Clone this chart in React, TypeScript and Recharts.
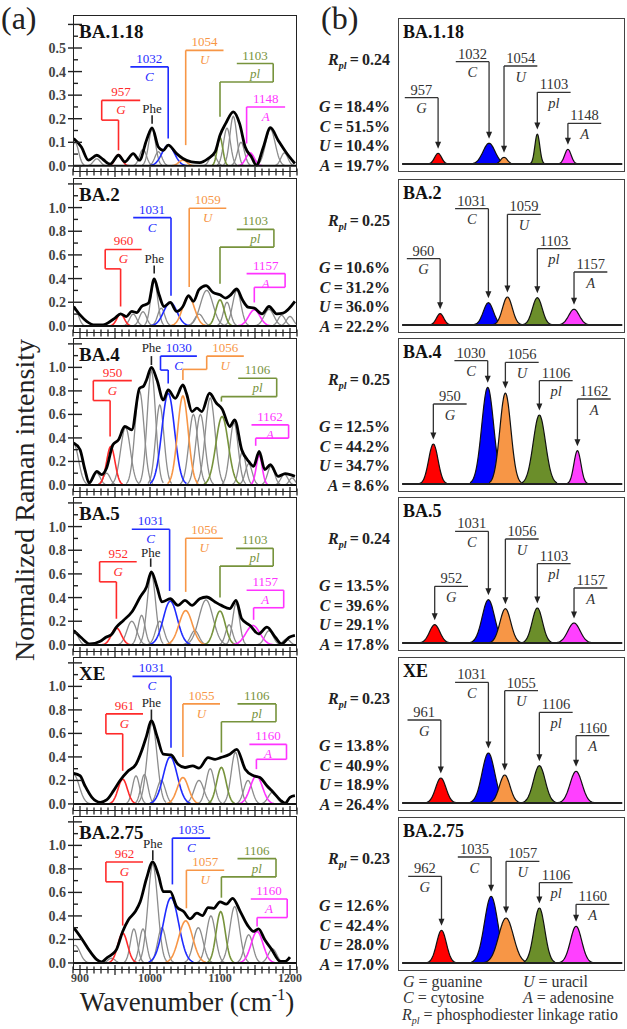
import { useMemo } from 'react'
import { ComposedChart, Line, Area, XAxis, YAxis, ReferenceLine, ReferenceDot } from 'recharts'

const SERIF = '"Liberation Serif", "Times New Roman", Times, Tinos, "Nimbus Roman", "Noto Serif", "DejaVu Serif", serif'
const serifStyle = { fontFamily: SERIF }

/* ============ data ============ */

const variants = ['BA.1.18', 'BA.2', 'BA.4', 'BA.5', 'XE', 'BA.2.75']
const rplRatio = ['0.24', '0.25', '0.25', '0.24', '0.23', '0.23']
const guaninePct = ['18.4', '10.6', '12.5', '13.5', '13.8', '12.6']
const cytosinePct = ['51.5', '31.2', '44.2', '39.6', '40.9', '42.4']
const uracilPct = ['10.4', '36.0', '34.7', '29.1', '18.9', '28.0']
const adenosinePct = ['19.7', '22.2', '8.6', '17.8', '26.4', '17.0']

const bandSymbols = ['G', 'C', 'U', 'pl', 'A']
const bandWavenumbers = [
  [957, 1032, 1054, 1103, 1148],
  [960, 1031, 1059, 1103, 1157],
  [950, 1030, 1056, 1106, 1162],
  [952, 1031, 1056, 1103, 1157],
  [961, 1031, 1055, 1106, 1160],
  [962, 1035, 1057, 1106, 1160],
]

// measured Raman spectra (a): [wavenumber, normalized intensity]
const spectrumBA118 = [
  [891, 0.116], [902, 0.08], [912, 0.024], [924, 0.045], [933, 0.027], [943, 0.007], [955, 0.045],
  [964, 0.017], [976, 0.052], [985, 0.024], [995, 0.109], [1003, 0.161], [1012, 0.08], [1019, 0.066],
  [1026, 0.088], [1038, 0.052], [1047, 0.031], [1059, 0.017], [1071, 0.014], [1083, 0.031], [1093, 0.059],
  [1100, 0.13], [1108, 0.179], [1119, 0.229], [1128, 0.179], [1136, 0.08], [1145, 0.038], [1152, 0.003],
  [1162, 0.08], [1172, 0.162], [1183, 0.109], [1194, 0.059], [1207, 0.01],
]
const spectrumBA2 = [
  [891, 0.164], [900, 0.093], [910, 0.037], [921, 0.008], [933, 0.008], [943, 0.037], [950, 0.065],
  [958, 0.102], [966, 0.079], [974, 0.122], [981, 0.113], [988, 0.164], [998, 0.193], [1006, 0.397],
  [1013, 0.263], [1020, 0.164], [1029, 0.198], [1038, 0.122], [1047, 0.164], [1055, 0.255], [1062, 0.207],
  [1070, 0.306], [1080, 0.34], [1090, 0.283], [1100, 0.263], [1108, 0.235], [1114, 0.255], [1124, 0.312],
  [1132, 0.221], [1140, 0.159], [1149, 0.15], [1160, 0.102], [1170, 0.164], [1181, 0.102], [1190, 0.108],
  [1207, 0.207],
]
const spectrumBA4 = [
  [891, 0.356], [900, 0.3], [907, 0.13], [913, 0.017], [924, 0.116], [931, 0.088], [938, 0.144],
  [947, 0.342], [955, 0.384], [964, 0.497], [974, 0.469], [985, 0.822], [991, 0.842], [995, 0.893],
  [1002, 1.0], [1010, 0.893], [1019, 0.723], [1026, 0.808], [1036, 0.737], [1047, 0.85], [1052, 0.78],
  [1060, 0.624], [1067, 0.653], [1074, 0.624], [1085, 0.78], [1095, 0.695], [1103, 0.647], [1114, 0.497],
  [1121, 0.554], [1131, 0.3], [1141, 0.2], [1148, 0.158], [1156, 0.285], [1164, 0.13], [1172, 0.172],
  [1183, 0.073], [1193, 0.096], [1207, 0.073],
]
const spectrumBA5 = [
  [891, 0.122], [902, 0.06], [914, 0.008], [929, 0.031], [937, 0.065], [945, 0.088], [952, 0.15],
  [962, 0.207], [974, 0.278], [986, 0.405], [995, 0.49], [1002, 0.618], [1010, 0.49], [1017, 0.363],
  [1029, 0.39], [1040, 0.334], [1050, 0.377], [1060, 0.334], [1071, 0.39], [1081, 0.405], [1093, 0.363],
  [1102, 0.334], [1114, 0.306], [1123, 0.377], [1131, 0.22], [1143, 0.164], [1155, 0.093], [1167, 0.15],
  [1179, 0.065], [1188, 0.008], [1199, 0.065], [1207, 0.08],
]
const spectrumXE = [
  [891, 0.26], [900, 0.24], [907, 0.155], [917, 0.056], [929, 0.014], [938, 0.034], [948, 0.113],
  [957, 0.197], [969, 0.282], [980, 0.338], [988, 0.45], [995, 0.577], [1002, 0.71], [1010, 0.577],
  [1019, 0.423], [1030, 0.417], [1040, 0.338], [1050, 0.31], [1061, 0.324], [1070, 0.304], [1083, 0.394],
  [1093, 0.38], [1101, 0.394], [1114, 0.423], [1124, 0.465], [1136, 0.296], [1148, 0.24], [1157, 0.225],
  [1167, 0.155], [1176, 0.099], [1186, 0.034], [1193, 0.006], [1200, 0.056], [1207, 0.07],
]
const spectrumBA275 = [
  [891, 0.3], [902, 0.21], [914, 0.1], [924, 0.028], [931, 0.008], [938, 0.042], [945, 0.07],
  [952, 0.113], [961, 0.268], [969, 0.366], [979, 0.437], [986, 0.52], [995, 0.718], [1004, 0.86],
  [1012, 0.746], [1019, 0.606], [1029, 0.606], [1038, 0.479], [1048, 0.437], [1057, 0.375], [1067, 0.423],
  [1075, 0.403], [1083, 0.47], [1091, 0.465], [1100, 0.52], [1109, 0.5], [1118, 0.55], [1129, 0.437],
  [1139, 0.324], [1148, 0.268], [1155, 0.29], [1164, 0.197], [1174, 0.113], [1186, 0.014], [1193, 0.014],
  [1200, 0.05],
]
const spectra = [spectrumBA118, spectrumBA2, spectrumBA4, spectrumBA5, spectrumXE, spectrumBA275]

// nucleotide bands fitted in (a): [center, height, sigma], order G C U pl A
const fitBA118 = [[955, 0.048, 5], [1026, 0.088, 9], [1047, 0.024, 6], [1100, 0.12, 4], [1143, 0.055, 6]]
const fitBA2 = [[958, 0.102, 5.3], [1029, 0.198, 9.5], [1055, 0.25, 8.5], [1100, 0.22, 6], [1149, 0.136, 8]]
const fitBA4 = [[944, 0.328, 6], [1026, 0.78, 9], [1047, 0.757, 7.6], [1103, 0.582, 8.8], [1156, 0.25, 4.3]]
const fitBA5 = [[952, 0.144, 7], [1029, 0.37, 10], [1051, 0.29, 9.5], [1100, 0.286, 7.6], [1147, 0.164, 10]]
const fitXE = [[961, 0.21, 6.7], [1029, 0.4, 10], [1047, 0.225, 8], [1102, 0.31, 6.7], [1152, 0.24, 8.6]]
const fitBA275 = [[961, 0.254, 7], [1030, 0.555, 11], [1051, 0.358, 10], [1101, 0.437, 6.5], [1153, 0.268, 8.5]]
const fitsA = [fitBA118, fitBA2, fitBA4, fitBA5, fitXE, fitBA275]

// remaining (grey) bands in (a)
const greyBA118 = [[893, 0.1, 5], [924, 0.03, 5], [990, 0.07, 5], [1003, 0.155, 5], [1012, 0.06, 5], [1090, 0.05, 5], [1110, 0.16, 5], [1119, 0.21, 5], [1130, 0.1, 5], [1172, 0.155, 7], [1192, 0.055, 5]]
const greyBA2 = [[893, 0.14, 5], [976, 0.1, 5], [990, 0.12, 5], [1006, 0.38, 5], [1016, 0.15, 5], [1070, 0.1, 6], [1081, 0.3, 9], [1110, 0.2, 5], [1124, 0.3, 6], [1170, 0.14, 7], [1188, 0.09, 5], [1200, 0.08, 5]]
const greyBA4 = [[891, 0.35, 7], [924, 0.1, 5], [938, 0.1, 5], [965, 0.49, 7], [985, 0.8, 6.5], [1002, 0.97, 6], [1014, 0.68, 6], [1062, 0.6, 6.5], [1072, 0.6, 6.5], [1086, 0.74, 7], [1120, 0.53, 6], [1132, 0.28, 5], [1141, 0.18, 5], [1173, 0.16, 5], [1192, 0.09, 5], [1203, 0.06, 4]]
const greyBA5 = [[893, 0.1, 5], [974, 0.2, 7], [988, 0.25, 5], [1002, 0.6, 6], [1014, 0.2, 6], [1064, 0.12, 6], [1080, 0.38, 10], [1113, 0.17, 5], [1123, 0.35, 5], [1170, 0.12, 6], [1195, 0.05, 5]]
const greyXE = [[891, 0.25, 8], [980, 0.24, 5], [992, 0.25, 5], [1003, 0.69, 7], [1016, 0.2, 6], [1070, 0.2, 7], [1086, 0.3, 6], [1122, 0.44, 6], [1140, 0.2, 6], [1175, 0.1, 6]]
const greyBA275 = [[893, 0.15, 7], [945, 0.04, 5], [977, 0.29, 5], [990, 0.29, 5], [1004, 0.84, 7], [1017, 0.3, 6], [1069, 0.3, 7], [1087, 0.4, 6.5], [1121, 0.48, 7], [1141, 0.24, 6], [1175, 0.12, 6]]
const greysA = [greyBA118, greyBA2, greyBA4, greyBA5, greyXE, greyBA275]

// isolated nucleotide bands (b): heights and widths, centers from bandWavenumbers
const heightsB = [
  [0.107, 0.207, 0.067, 0.3, 0.147],
  [0.113, 0.223, 0.28, 0.273, 0.157],
  [0.4, 0.967, 0.91, 0.69, 0.333],
  [0.183, 0.433, 0.343, 0.35, 0.2],
  [0.25, 0.5, 0.28, 0.373, 0.317],
  [0.327, 0.667, 0.45, 0.55, 0.367],
]
const sigmaB = [
  [5.1, 8.8, 4.9, 3.6, 4.8],
  [5.4, 7.4, 7.2, 7.2, 7.8],
  [6.9, 8.8, 8.1, 9, 5.2],
  [7.6, 9.1, 8, 7.6, 9],
  [7.6, 9.3, 7.8, 8.6, 8.8],
  [7.2, 9.8, 10.8, 8, 8.3],
]

/* ============ annotation layout ============ */

// (a): label bar [left, right, y] and leader polyline down to the band
const bracketsA = [
  [
    { bar: [931, 986, 0.278], leg: [[931, 0.278], [931, 0.194], [955, 0.194], [955, 0.066]] },
    { bar: [972, 1026, 0.42], leg: [[1026, 0.42], [1026, 0.116]] },
    { bar: [1051, 1105, 0.49], leg: [[1051, 0.49], [1051, 0.088]] },
    { bar: [1124, 1176, 0.434], leg: [[1176, 0.434], [1176, 0.356], [1100, 0.356], [1100, 0.208]] },
    { bar: [1138, 1193, 0.25], leg: [[1138, 0.25], [1138, 0.095]] },
  ],
  [
    { bar: [936, 988, 0.646], leg: [[936, 0.646], [936, 0.482], [958, 0.482], [958, 0.164]] },
    { bar: [976, 1030, 0.915], leg: [[1030, 0.915], [1030, 0.255]] },
    { bar: [1056, 1109, 0.994], leg: [[1056, 0.994], [1056, 0.329]] },
    { bar: [1124, 1177, 0.816], leg: [[1177, 0.816], [1177, 0.666], [1100, 0.666], [1100, 0.357]] },
    { bar: [1138, 1193, 0.442], leg: [[1193, 0.442], [1193, 0.326], [1149, 0.326], [1149, 0.198]] },
  ],
  [
    { bar: [919, 974, 0.887], leg: [[919, 0.887], [919, 0.718], [943, 0.718], [943, 0.412]] },
    { bar: [1015, 1067, 1.096], leg: [[1015, 1.096], [1015, 0.977], [1026, 0.977], [1026, 0.864]] },
    { bar: [1081, 1134, 1.096], leg: [[1081, 1.096], [1081, 0.983], [1047, 0.983], [1047, 0.893]] },
    { bar: [1126, 1181, 0.907], leg: [[1181, 0.907], [1181, 0.751], [1102, 0.751], [1102, 0.709]] },
    { bar: [1145, 1198, 0.511], leg: [[1198, 0.511], [1198, 0.398], [1151, 0.398], [1151, 0.333]] },
  ],
  [
    { bar: [928, 981, 0.703], leg: [[928, 0.703], [928, 0.533], [952, 0.533], [952, 0.221]] },
    { bar: [974, 1028, 0.977], leg: [[1028, 0.977], [1028, 0.456]] },
    { bar: [1051, 1104, 0.901], leg: [[1051, 0.901], [1051, 0.448]] },
    { bar: [1123, 1176, 0.816], leg: [[1176, 0.816], [1176, 0.666], [1100, 0.666], [1100, 0.4]] },
    { bar: [1138, 1191, 0.462], leg: [[1191, 0.462], [1191, 0.314], [1148, 0.314], [1148, 0.212]] },
  ],
  [
    { bar: [937, 990, 0.766], leg: [[937, 0.766], [937, 0.597], [961, 0.597], [961, 0.282]] },
    { bar: [975, 1030, 1.085], leg: [[1030, 1.085], [1030, 0.479]] },
    { bar: [1047, 1100, 0.851], leg: [[1047, 0.851], [1047, 0.4]] },
    { bar: [1125, 1180, 0.851], leg: [[1180, 0.851], [1180, 0.699], [1102, 0.699], [1102, 0.437]] },
    { bar: [1142, 1195, 0.507], leg: [[1195, 0.507], [1195, 0.38], [1152, 0.38], [1152, 0.296]] },
  ],
  [
    { bar: [937, 990, 0.859], leg: [[937, 0.859], [937, 0.69], [961, 0.69], [961, 0.318]] },
    { bar: [1032, 1086, 1.062], leg: [[1032, 1.062], [1032, 0.668]] },
    { bar: [1052, 1106, 0.789], leg: [[1052, 0.789], [1052, 0.465]] },
    { bar: [1125, 1180, 0.887], leg: [[1180, 0.887], [1180, 0.732], [1102, 0.732], [1102, 0.555]] },
    { bar: [1144, 1196, 0.544], leg: [[1196, 0.544], [1196, 0.386], [1153, 0.386], [1153, 0.31]] },
  ],
]
// Phe marker (a): [x, text y, tick top, tick bottom]
const pheA = [
  [1003, 0.243, 0.215, 0.179],
  [1006, 0.567, 0.51, 0.442],
  [1002, 1.161, 1.096, 1.02],
  [1001, 0.779, 0.731, 0.66],
  [1002, 0.859, 0.803, 0.718],
  [1004, 1.014, 0.958, 0.873],
]
// (b): label bar height and side (-1 bar to the left of the arrow, 1 to the right)
const barYB = [
  [0.663, 1.023, 0.98, 0.717, 0.407],
  [0.663, 1.163, 1.107, 0.763, 0.53],
  [0.8, 1.233, 1.217, 1.033, 0.85],
  [0.567, 1.117, 1.04, 0.793, 0.55],
  [0.83, 1.207, 1.123, 0.907, 0.673],
  [0.867, 1.06, 1.017, 0.803, 0.587],
]
const sideB = [
  [-1, -1, 1, 1, 1],
  [-1, -1, 1, 1, 1],
  [1, -1, 1, 1, 1],
  [1, -1, 1, 1, 1],
  [-1, -1, 1, 1, 1],
  [-1, -1, 1, 1, 1],
]

const lineColors = ['#ff2a2a', '#1f2bff', '#f79646', '#77933c', '#ff33ff']
const fillColors = ['#ff0000', '#0000ff', '#f79646', '#6b8e2a', '#ff40ff']

const topsA = [15, 178, 338, 497, 657, 816]
const heightsA = [157, 155, 154, 155, 154, 154]
const topsB = [18, 179, 338, 497, 657, 817]

/* ============ helpers ============ */

const gauss = (x: number, c: number, h: number, s: number) => h * Math.exp(-((x - c) ** 2) / (2 * s * s))

function bandRows(x0: number, x1: number, bands: number[][]) {
  const rows: Record<string, number | null>[] = []
  for (let x = x0; x <= x1; x += 1) {
    const row: Record<string, number | null> = { x }
    bands.forEach(([c, h, s], k) => {
      const v = gauss(x, c, h, s)
      row['b' + k] = v < h * 0.012 ? null : v
    })
    rows.push(row)
  }
  return rows
}

function XTick(props: any) {
  const { x, y, payload, showLabel } = props
  const v = payload.value
  const major = v % 50 === 0
  const len = major ? 5 : 3.5
  return (
    <g>
      <line x1={x} x2={x} y1={y - len} y2={y + len} stroke="#222" strokeWidth={1.3} />
      {showLabel && v % 100 === 0 && (
        <text x={x} y={y + 12} textAnchor="middle" style={serifStyle} fontWeight="bold" fontSize={12} fill="#444">
          {v}
        </text>
      )}
    </g>
  )
}

function YTick(props: any) {
  const { x, y, payload, first } = props
  const v = payload.value
  const major = first ? Math.round(v * 100) % 10 === 0 : Math.round(v * 10) % 2 === 0
  const labelled = major && v <= (first ? 0.5 : 1.0) + 1e-6
  return (
    <g>
      <line x1={major ? x - 5 : x} x2={x + (major ? 9 : 5)} y1={y} y2={y} stroke="#222" strokeWidth={1.4} />
      {labelled && (
        <text x={x - 7} y={y + 5} textAnchor="end" style={serifStyle} fontWeight="bold" fontSize={14} fill="#444">
          {v.toFixed(1)}
        </text>
      )}
    </g>
  )
}

/* ============ panels ============ */

function PanelA({ i }: { i: number }) {
  const first = i === 0
  const bands = useMemo(() => [...greysA[i], ...fitsA[i]], [i])
  const rows = useMemo(() => bandRows(890, 1210, bands), [bands])
  const spec = spectra[i].map(([x, y]) => ({ x, y }))
  const nGrey = greysA[i].length
  const h = heightsA[i]
  const domain = first ? [-0.026, 0.64] : [-0.06, 1.25]
  const yTicks = first
    ? Array.from({ length: 13 }, (_, k) => +(k * 0.05).toFixed(2))
    : Array.from({ length: 13 }, (_, k) => +(k * 0.1).toFixed(1))
  const xTicks = Array.from({ length: 33 }, (_, k) => 890 + k * 10)
  const [px, pTxt, pTop, pBot] = pheA[i]

  return (
    <div style={{ position: 'absolute', left: 28, top: topsA[i] }}>
      <ComposedChart width={285} height={h + 22} data={rows} margin={{ top: 0, right: 16, bottom: 0, left: 0 }}>
        <XAxis
          type="number" dataKey="x" domain={[890, 1210]} allowDataOverflow ticks={xTicks} interval={0}
          height={22} tickSize={0} tickMargin={0} axisLine={false} tickLine={false}
          tick={(p: any) => <XTick {...p} showLabel={i === 5} />}
        />
        <YAxis
          type="number" domain={domain} allowDataOverflow ticks={yTicks} interval={0}
          width={45} tickSize={0} tickMargin={0} axisLine={false} tickLine={false}
          tick={(p: any) => <YTick {...p} first={first} />}
        />
        {bands.map((_, k) => (
          <Line
            key={k} type="linear" dataKey={'b' + k} dot={false} activeDot={false} isAnimationActive={false}
            stroke={k < nGrey ? '#8c8c8c' : lineColors[k - nGrey]} strokeWidth={k < nGrey ? 1.3 : 1.6}
          />
        ))}
        <Line data={spec} type="monotone" dataKey="y" stroke="#000" strokeWidth={2.8} dot={false} activeDot={false} isAnimationActive={false} />
        <ReferenceLine y={0} stroke="#111" strokeWidth={2} />

        {/* Phe marker */}
        <ReferenceLine segment={[{ x: px, y: pTop }, { x: px, y: pBot }]} stroke="#222" strokeWidth={1.6} />
        <ReferenceDot
          x={px} y={pTxt} r={0}
          shape={(p: any) => (
            <text x={p.cx} y={p.cy + 4} textAnchor="middle" style={serifStyle} fontSize={13} fill="#222">Phe</text>
          )}
        />

        {/* band labels with leader lines */}
        {bracketsA[i].map((b, k) => {
          const col = lineColors[k]
          const segs = [[[b.bar[0], b.bar[2]], [b.bar[1], b.bar[2]]]]
          for (let s = 0; s < b.leg.length - 1; s++) segs.push([b.leg[s], b.leg[s + 1]])
          return (
            <g key={k}>
              {segs.map((sg, s) => (
                <ReferenceLine
                  key={s} stroke={col} strokeWidth={1.6}
                  segment={[{ x: sg[0][0], y: sg[0][1] }, { x: sg[1][0], y: sg[1][1] }]}
                />
              ))}
              <ReferenceDot
                x={(b.bar[0] + b.bar[1]) / 2} y={b.bar[2]} r={0}
                shape={(p: any) => (
                  <g style={serifStyle} fontSize={13} fill={col} textAnchor="middle">
                    <text x={p.cx} y={p.cy - 4}>{bandWavenumbers[i][k]}</text>
                    <text x={p.cx} y={p.cy + 14} fontStyle="italic">{bandSymbols[k]}</text>
                  </g>
                )}
              />
            </g>
          )
        })}
      </ComposedChart>
      <div
        style={{
          position: 'absolute', left: 45, top: 0, width: 224, height: h,
          border: '1.5px solid #222', boxSizing: 'border-box', pointerEvents: 'none',
        }}
      />
    </div>
  )
}

function PanelB({ i }: { i: number }) {
  const centers = bandWavenumbers[i]
  const bands = centers.map((c, k) => [c, heightsB[i][k], sigmaB[i][k]])
  const rows = useMemo(() => bandRows(898, 1232, bands), [i])

  return (
    <div style={{ position: 'absolute', left: 398, top: topsB[i] }}>
      <ComposedChart width={227} height={154} data={rows} margin={{ top: 0, right: 0, bottom: 0, left: 0 }}>
        <XAxis type="number" dataKey="x" domain={[898, 1232]} allowDataOverflow hide />
        <YAxis type="number" domain={[-0.08, 1.46]} allowDataOverflow hide />
        <ReferenceLine segment={[{ x: 904, y: 0 }, { x: 1228, y: 0 }]} stroke="#222" strokeWidth={2.2} />
        {bands.map((_, k) => (
          <Area
            key={k} type="monotone" dataKey={'b' + k} baseValue={0} stroke="#111" strokeWidth={1.2}
            fill={fillColors[k]} fillOpacity={1} dot={false} activeDot={false} isAnimationActive={false}
          />
        ))}
        {centers.map((c, k) => {
          const yb = barYB[i][k]
          const far = c + sideB[i][k] * 49
          const tip = heightsB[i][k] + 0.045
          return (
            <g key={k}>
              <ReferenceLine segment={[{ x: c, y: yb }, { x: far, y: yb }]} stroke="#333" strokeWidth={1.3} />
              <ReferenceLine segment={[{ x: c, y: yb }, { x: c, y: tip + 0.05 }]} stroke="#333" strokeWidth={1.3} />
              <ReferenceDot
                x={c} y={tip} r={0}
                shape={(p: any) => <path d={`M${p.cx},${p.cy} l-3,-7 l6,0 z`} fill="#222" />}
              />
              <ReferenceDot
                x={(c + far) / 2} y={yb} r={0}
                shape={(p: any) => (
                  <g style={serifStyle} fontSize={14.5} fill="#333" textAnchor="middle">
                    <text x={p.cx} y={p.cy - 3}>{c}</text>
                    <text x={p.cx} y={p.cy + 15.5} fontStyle="italic">{bandSymbols[k]}</text>
                  </g>
                )}
              />
            </g>
          )
        })}
      </ComposedChart>
      <div
        style={{
          position: 'absolute', left: 0, top: 0, width: 227, height: 154,
          border: '1.5px solid #444', boxSizing: 'border-box', pointerEvents: 'none',
        }}
      />
    </div>
  )
}

/* ============ page ============ */

export default function App() {
  const compRows = [
    ['G', guaninePct],
    ['C', cytosinePct],
    ['U', uracilPct],
    ['A', adenosinePct],
  ] as const
  const rowBase = [94, 113.5, 133, 152.5]

  return (
    <div style={{ position: 'absolute', left: 0, top: 0, width: 627, height: 1029, background: '#fff', overflow: 'hidden', fontFamily: SERIF }}>
      {variants.map((_, i) => <PanelA key={'a' + i} i={i} />)}
      {variants.map((_, i) => <PanelB key={'b' + i} i={i} />)}

      <svg width={627} height={1029} style={{ position: 'absolute', left: 0, top: 0, pointerEvents: 'none', fontFamily: SERIF }}>
        <text x={1} y={29} fontSize={32} fill="#222">(a)</text>
        <text x={321} y={29} fontSize={32} fill="#222">(b)</text>

        {variants.map((v, i) => (
          <g key={v}>
            <text x={79} y={topsA[i] + 23} fontSize={19} fontWeight="bold" fill="#111">{v}</text>
            <text x={403} y={topsB[i] + 20} fontSize={18} fontWeight="bold" fill="#111">{v}</text>
            <text x={390} y={topsB[i] + 47} textAnchor="end" fontSize={16} fontWeight="bold" fill="#222">
              <tspan fontStyle="italic">R</tspan>
              <tspan fontStyle="italic" fontSize={10} dy={4}>pl</tspan>
              <tspan dy={-4}>{'\u2009=\u2009' + rplRatio[i]}</tspan>
            </text>
            {compRows.map(([sym, vals], r) => (
              <text key={sym} x={390} y={topsB[i] + rowBase[r]} textAnchor="end" fontSize={16} fontWeight="bold" fill="#222">
                <tspan fontStyle="italic">{sym}</tspan>
                <tspan>{'\u2009=\u2009' + vals[i] + '%'}</tspan>
              </text>
            ))}
          </g>
        ))}

        <text transform="translate(34,500) rotate(-90)" textAnchor="middle" fontSize={28} fill="#222">
          Normalized Raman intensity
        </text>
        <text x={187} y={1011} textAnchor="middle" fontSize={27} fill="#222">
          Wavenumber (cm<tspan fontSize={16} dy={-11}>-1</tspan><tspan dy={11}>)</tspan>
        </text>

        <g fontSize={16} fill="#333">
          <text x={403} y={987}><tspan fontStyle="italic">G</tspan> = guanine</text>
          <text x={523} y={987}><tspan fontStyle="italic">U</tspan> = uracil</text>
          <text x={403} y={1003}><tspan fontStyle="italic">C</tspan> = cytosine</text>
          <text x={523} y={1003}><tspan fontStyle="italic">A</tspan> = adenosine</text>
          <text x={402} y={1020}>
            <tspan fontStyle="italic">R</tspan>
            <tspan fontStyle="italic" fontSize={10} dy={4}>pl</tspan>
            <tspan dy={-4}> = phosphodiester linkage ratio</tspan>
          </text>
        </g>
      </svg>
    </div>
  )
}
